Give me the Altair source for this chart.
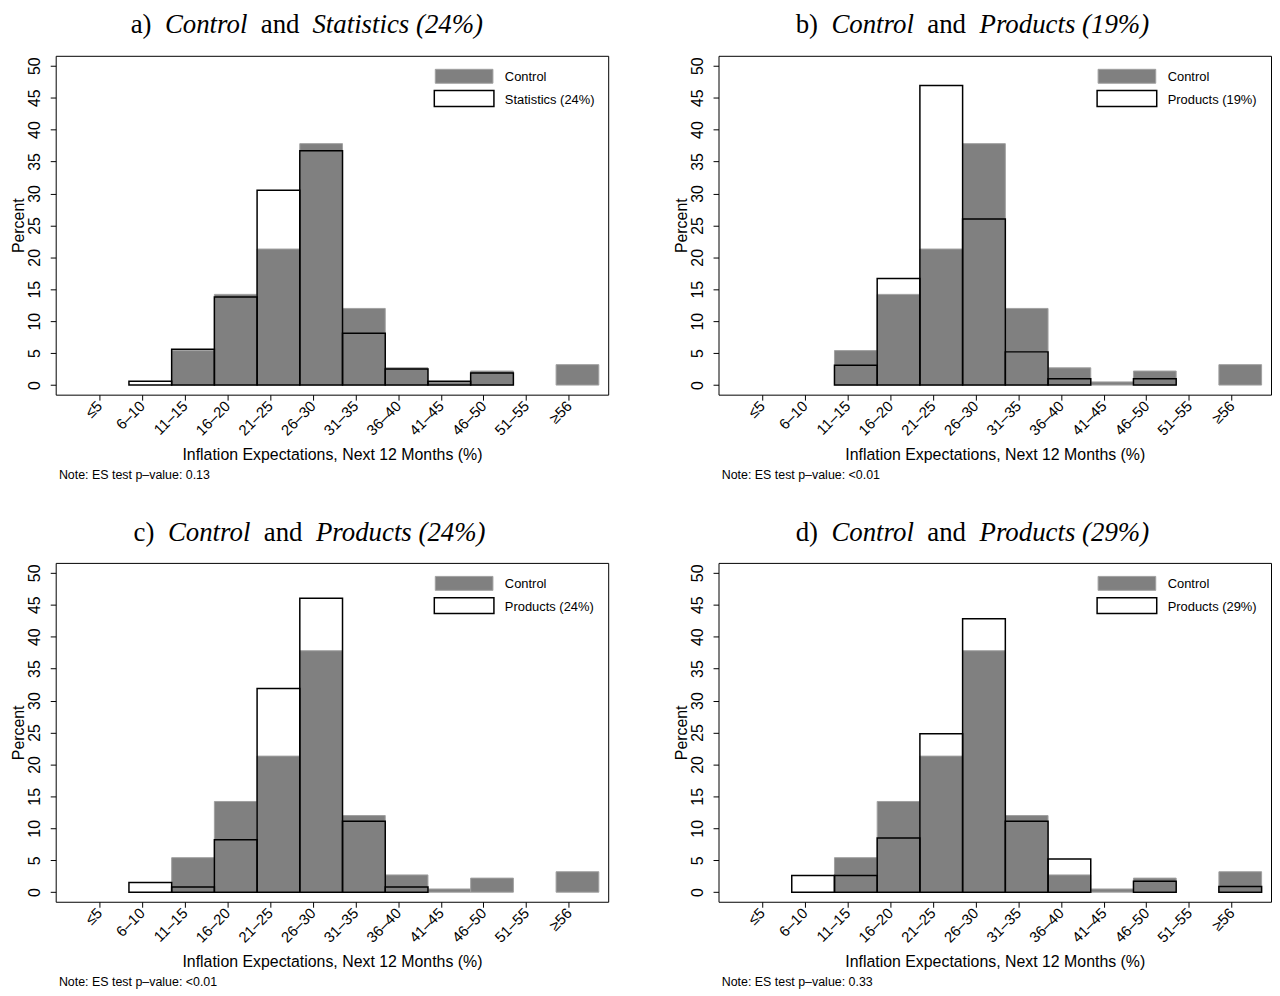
import altair as alt
import pandas as pd

# ---------------- data ----------------
categories = ["≤5", "6–10", "11–15", "16–20", "21–25", "26–30",
              "31–35", "36–40", "41–45", "46–50", "51–55", "≥56"]
control = [0, 0, 5.4, 14.2, 21.3, 37.8, 12.0, 2.7, 0.5, 2.2, 0, 3.2]
statistics_24 = [0, 0.6, 5.6, 13.8, 30.5, 36.7, 8.1, 2.5, 0.6, 1.9, 0, 0]
products_19 = [0, 0, 3.1, 16.7, 46.9, 26.0, 5.2, 1.0, 0, 1.0, 0, 0]
products_24 = [0, 1.5, 0.8, 8.2, 31.9, 46.0, 11.1, 0.8, 0, 0, 0, 0]
products_29 = [0, 2.6, 2.6, 8.5, 24.8, 42.8, 11.1, 5.2, 0, 1.7, 0, 0.9]

panel_letters = ["a)", "b)", "c)", "d)"]
control_name = "Control"
treatment_titles = ["Statistics (24%)", "Products (19%)", "Products (24%)", "Products (29%)"]
treatment_values = [statistics_24, products_19, products_24, products_29]
p_values = ["0.13", "<0.01", "<0.01", "0.33"]
y_ticks = [0, 5, 10, 15, 20, 25, 30, 35, 40, 45, 50]
x_title = "Inflation Expectations, Next 12 Months (%)"
y_title = "Percent"

# ---------------- style ----------------
W, H = 556, 341
XDOM = [-1.015, 11.92]
YDOM = [-1.5, 51.55]
SANS = "Liberation Sans"
SERIF = "Liberation Serif"
GRAY = "#808080"

label_js = "[" + ",".join("'" + c + "'" for c in categories) + "]"
label_expr = label_js + "[round(datum.value)]"

# title piece centres (px, relative to plot-area left)
title_centres = [[85.9, 151.4, 225.9, 344.2],
                 [88.9, 155.1, 229.6, 348.0],
                 [88.9, 154.4, 228.9, 347.2],
                 [88.9, 155.1, 229.6, 348.0]]


def bars_df(values):
    df = pd.DataFrame({"i": list(range(len(categories))), "pct": values,
                       "cat": categories})
    df = df[df["pct"] > 0].copy()
    df["x0"] = df["i"] - 0.3
    df["x1"] = df["i"] + 0.7
    df["y0"] = 0.0
    return df


def make_panel(k):
    xscale = alt.Scale(domain=XDOM, nice=False, zero=False)
    yscale = alt.Scale(domain=YDOM, nice=False, zero=False)
    xaxis = alt.Axis(values=list(range(len(categories))), labelExpr=label_expr,
                     labelAngle=-45, labelAlign="right", labelBaseline="middle",
                     labelFontSize=15, labelPadding=3, tickSize=5.5,
                     title=x_title, titleFontSize=16, titleX=W / 2, titleY=59.8,
                     titleBaseline="middle", titleAlign="center")
    yaxis = alt.Axis(values=y_ticks, labelAngle=-90, labelAlign="center",
                     labelBaseline="bottom", labelFontSize=16, labelPadding=8,
                     tickSize=5.5, title=y_title, titleFontSize=16,
                     titleX=-37.5, titleY=H / 2, titleBaseline="middle",
                     titleAngle=-90, titleAlign="center")

    ctrl = alt.Chart(bars_df(control)).mark_rect(
        fill=GRAY, stroke="#a0a0a0", strokeWidth=1
    ).encode(
        x=alt.X("x0:Q", scale=xscale, axis=xaxis),
        x2="x1:Q",
        y=alt.Y("y0:Q", scale=yscale, axis=yaxis),
        y2="pct:Q",
    )
    treat = alt.Chart(bars_df(treatment_values[k])).mark_rect(
        fill="white", fillOpacity=0, stroke="black", strokeWidth=1.5
    ).encode(
        x=alt.X("x0:Q", scale=xscale, axis=xaxis),
        x2="x1:Q",
        y=alt.Y("y0:Q", scale=yscale, axis=yaxis),
        y2="pct:Q",
    )

    layers = [ctrl, treat]

    # legend
    leg1 = alt.Chart(pd.DataFrame({"t": [control_name]})).mark_rect(
        fill=GRAY, stroke="#a0a0a0", strokeWidth=1
    ).encode(x=alt.value(382), x2=alt.value(440), y=alt.value(13.6), y2=alt.value(27.6))
    leg2 = alt.Chart(pd.DataFrame({"t": [treatment_titles[k]]})).mark_rect(
        fill="white", stroke="black", strokeWidth=1.5
    ).encode(x=alt.value(381), x2=alt.value(441), y=alt.value(35), y2=alt.value(51))
    legt1 = alt.Chart(pd.DataFrame({"t": [control_name]})).mark_text(
        font=SANS, fontSize=13, align="left", baseline="middle", color="black"
    ).encode(x=alt.value(452), y=alt.value(21.7), text="t:N")
    legt2 = alt.Chart(pd.DataFrame({"t": [treatment_titles[k]]})).mark_text(
        font=SANS, fontSize=13, align="left", baseline="middle", color="black"
    ).encode(x=alt.value(452), y=alt.value(44.2), text="t:N")
    layers += [leg1, leg2, legt1, legt2]

    # note
    note = alt.Chart(pd.DataFrame({"t": ["Note: ES test p–value: " + p_values[k]]})).mark_text(
        font=SANS, fontSize=12.5, align="left", baseline="middle", color="black"
    ).encode(x=alt.value(3.2), y=alt.value(421.5), text="t:N")
    layers.append(note)

    # panel title pieces (mixed roman / italic)
    pieces = [(panel_letters[k], "normal"), (control_name, "italic"),
              ("and", "normal"), (treatment_titles[k], "italic")]
    for (txt, style), cx in zip(pieces, title_centres[k]):
        layers.append(
            alt.Chart(pd.DataFrame({"t": [txt]})).mark_text(
                font=SERIF, fontSize=27, fontStyle=style, align="center",
                baseline="top", color="black"
            ).encode(x=alt.value(cx), y=alt.value(-43.5), text="t:N")
        )

    return alt.layer(*layers).properties(width=W, height=H)


panels = [make_panel(k) for k in range(4)]

chart = alt.concat(
    *panels, columns=2, spacing={"row": 169.3, "column": 111}, bounds="flush"
).properties(
    padding={"left": 2, "top": 0, "right": 0, "bottom": 0}
).configure_view(
    stroke="black", strokeWidth=1
).configure_axis(
    grid=False, domain=False, tickColor="black", tickWidth=1,
    labelColor="black", titleColor="black", labelFont=SANS, titleFont=SANS,
    titleFontWeight="normal"
)

chart.save("out.html", embed_options={"renderer": "svg", "actions": False})
